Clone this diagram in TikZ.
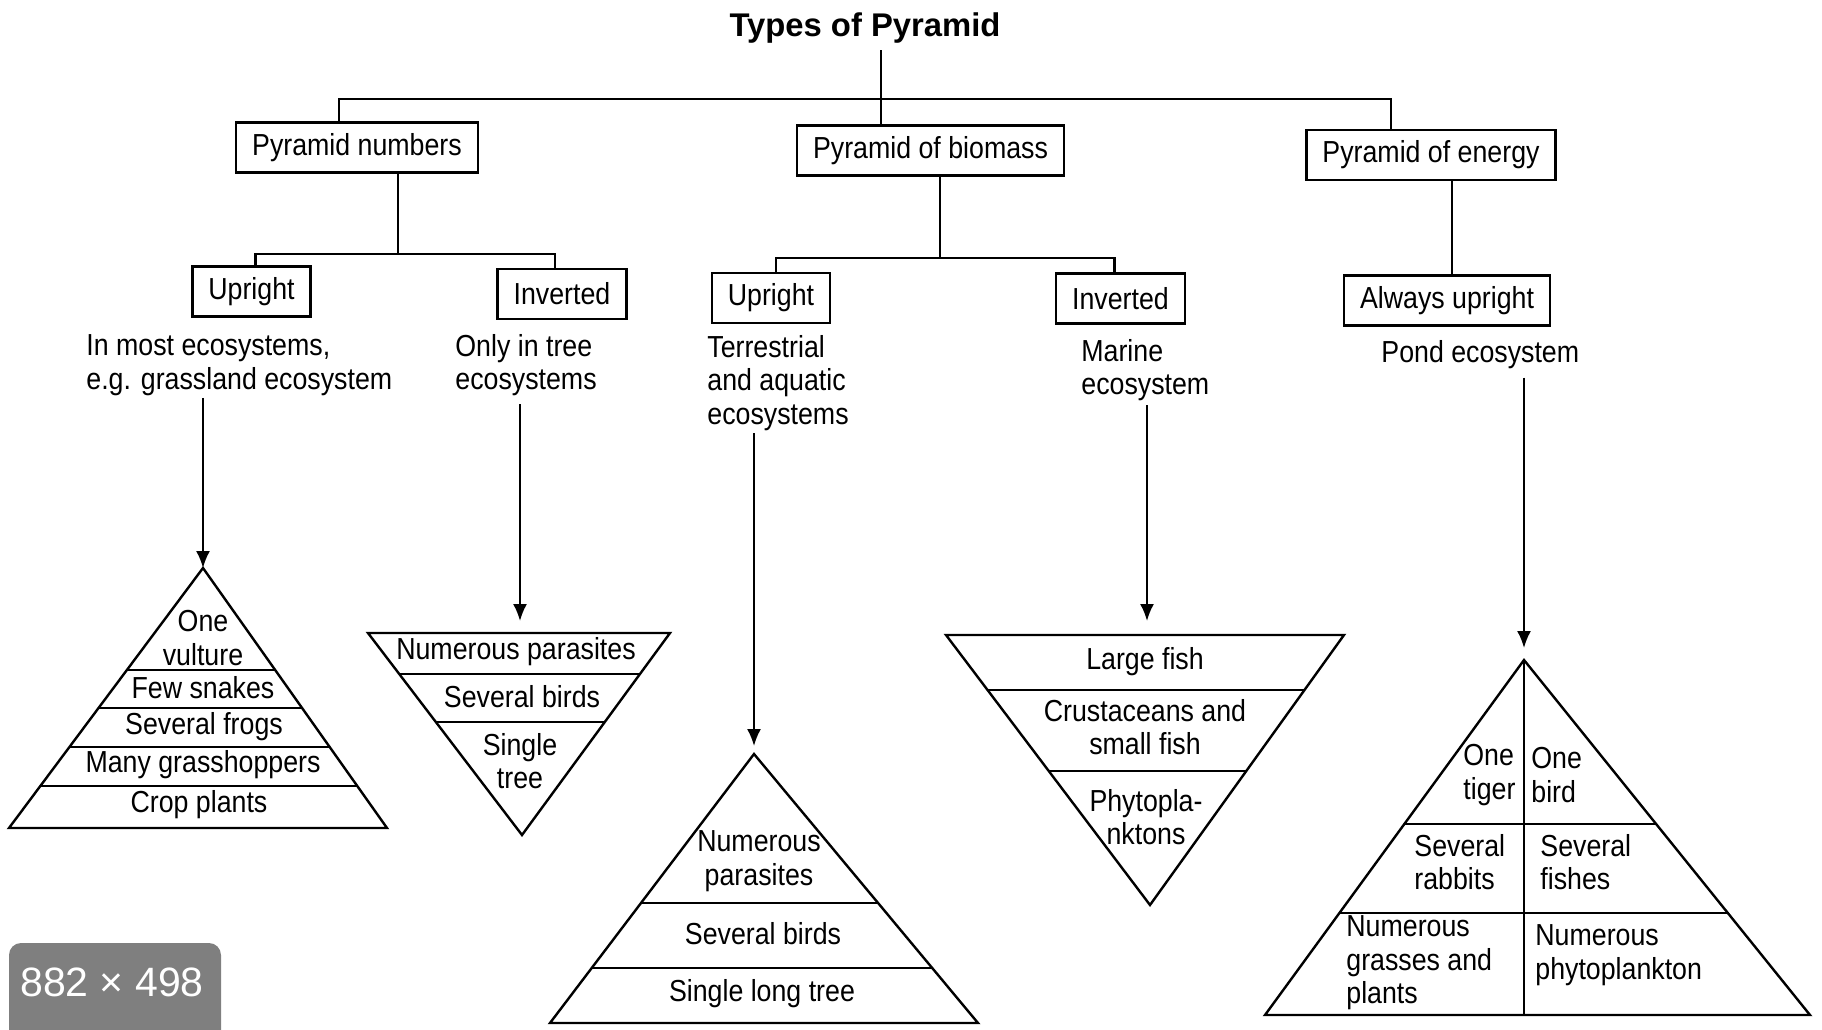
\documentclass[tikz,border=0pt]{standalone}
\usepackage{fontspec}
\setmainfont[FakeStretch=0.88]{Liberation Sans}
\newfontfamily\plainfont{Liberation Sans}
\usetikzlibrary{arrows.meta,calc}
\definecolor{badgegray}{HTML}{7F7F7F}
\tikzset{
  box/.style={draw, line width=1.2pt, inner xsep=8pt, inner ysep=0pt, minimum height=25pt},
  note/.style={inner sep=0pt, align=left, anchor=west},
  layer/.style={inner sep=0pt, align=center},
  link/.style={line width=1.1pt},
  down/.style={line width=1pt, -{Latex[length=8.5pt,width=7pt]}},
  pyr/.style={line width=1.2pt, line join=miter},
}
\begin{document}
\begin{tikzpicture}[x=0.5pt, y=-0.5pt, font=\fontsize{15.2pt}{16.8pt}\selectfont]
\useasboundingbox (0,0) rectangle (1822,1029);
%%
\node[font={\plainfont\bfseries\fontsize{16.4pt}{18pt}\selectfont}] (title) at (865,28) {Types of Pyramid};
%
\node[box] (num) at (357,147.5) {Pyramid numbers};
\node[box] (bio) at (930.5,150.5) {Pyramid of biomass};
\node[box] (en) at (1431,155) {Pyramid of energy};
%
\node[box] (up1) at (251.5,291.5) {Upright};
\node[box] (inv1) at (562,294) {Inverted};
\node[box] (up2) at (771,298) {Upright};
\node[box] (inv2) at (1120.5,298.5) {Inverted};
\node[box] (al) at (1447,300.5) {Always upright};
%% tree lines
\coordinate (topbar) at (881,99);
\draw[link] ([xshift=8pt]title.south) -- (bio.north -| topbar);
\draw[link] ([xshift=-9pt]num.north) |- (topbar) -| ([xshift=-20pt]en.north);
\coordinate (numbar) at (398,254);
\draw[link] ([xshift=20.5pt]num.south) -- (numbar);
\draw[link] ([xshift=2pt]up1.north) |- (numbar) -| ([xshift=-3.5pt]inv1.north);
\coordinate (biobar) at (940,258);
\draw[link] ([xshift=4.75pt]bio.south) -- (biobar);
\draw[link] ([xshift=2.5pt]up2.north) |- (biobar) -| ([xshift=-3pt]inv2.north);
\draw[link] ([xshift=10.5pt]en.south) -- ([xshift=2.5pt]al.north);
%% where
\node[note] (d1) at (86,365) {In most ecosystems,\\e.g. grassland ecosystem};
\node[note] (d2) at (455,365) {Only in tree\\ecosystems};
\node[note] (d3) at (707,383) {Terrestrial\\and aquatic\\ecosystems};
\node[note] (d4) at (1081,370) {Marine\\ecosystem};
\node[note] (d5) at (1381,355) {Pond ecosystem};
%% numbers, upright
\coordinate (a1) at (203,568);
\coordinate (l1) at (9,828);
\coordinate (r1) at (387,828);
\draw[pyr] (a1) -- (l1) -- (r1) -- cycle;
\foreach \t in {0.392,0.538,0.688,0.838}
  \draw[pyr] ($(a1)!\t!(l1)$) -- ($(a1)!\t!(r1)$);
\node[layer] (pn1) at (203,638) {One\\vulture};
\node[layer] (pn2) at (203,688) {Few snakes};
\node[layer] (pn3) at (204,727) {Several frogs};
\node[layer] (pn4) at (203,765) {Many grasshoppers};
\node[layer] (pn5) at (199,805) {Crop plants};
\draw[down] ([yshift=-1pt]d1.south -| a1) -- (a1);
%% numbers, inverted
\coordinate (tl2) at (368,633);
\coordinate (tr2) at (670,633);
\coordinate (a2) at (522,835);
\coordinate (m2) at (520,633);
\draw[pyr] (tl2) -- (tr2) -- (a2) -- cycle;
\foreach \t in {0.203,0.441}
  \draw[pyr] ($(tl2)!\t!(a2)$) -- ($(tr2)!\t!(a2)$);
\node[layer] (pi1) at (516,652) {Numerous parasites};
\node[layer] (pi2) at (522,697) {Several birds};
\node[layer] (pi3) at (520,761) {Single\\tree};
\draw[down] ([yshift=-4pt]d2.south -| m2) -- ([yshift=6pt]m2);
%% biomass, upright
\coordinate (a3) at (754,754);
\coordinate (l3) at (550,1023);
\coordinate (r3) at (978,1023);
\draw[pyr] (a3) -- (l3) -- (r3) -- cycle;
\foreach \t in {0.554,0.796}
  \draw[pyr] ($(a3)!\t!(l3)$) -- ($(a3)!\t!(r3)$);
\node[layer] (bu1) at (759,861) {Numerous\\parasites};
\node[layer] (bu2) at (763,934) {Several birds};
\node[layer] (bu3) at (762,994) {Single long tree};
\draw[down] ([yshift=-1pt]d3.south -| a3) -- ([yshift=4pt]a3);
%% biomass, inverted
\coordinate (tl4) at (946,635);
\coordinate (tr4) at (1344,635);
\coordinate (a4) at (1150,905);
\coordinate (m4) at (1147,635);
\draw[pyr] (tl4) -- (tr4) -- (a4) -- cycle;
\foreach \t in {0.204,0.504}
  \draw[pyr] ($(tl4)!\t!(a4)$) -- ($(tr4)!\t!(a4)$);
\node[layer] (bi1) at (1145,662) {Large fish};
\node[layer] (bi2) at (1145,727) {Crustaceans and\\small fish};
\node[layer] (bi3) at (1146,817) {Phytopla-\\nktons};
\draw[down] ([yshift=-2pt]d4.south -| m4) -- ([yshift=7pt]m4);
%% energy
\coordinate (a5) at (1524,660);
\coordinate (l5) at (1265,1015);
\coordinate (r5) at (1810,1015);
\draw[pyr] (a5) -- (l5) -- (r5) -- cycle;
\draw[pyr] (a5) -- (a5 |- l5);
\foreach \t in {0.462,0.713}
  \draw[pyr] ($(a5)!\t!(l5)$) -- ($(a5)!\t!(r5)$);
\node[note] (e1) at (1463,775) {One\\tiger};
\node[note] (e2) at (1531,775) {One\\bird};
\node[note] (e3) at (1414,862) {Several\\rabbits};
\node[note] (e4) at (1540,862) {Several\\fishes};
\node[note] (e5) at (1346,963) {Numerous\\grasses and\\plants};
\node[note] (e6) at (1535,955) {Numerous\\phytoplankton};
\draw[down] ([yshift=-4pt]d5.south -| a5) -- ([yshift=6pt]a5);
%% size badge
\fill[badgegray, rounded corners=6] (9,943) rectangle (221,1045);
\node[font={\plainfont\fontsize{20.5pt}{22pt}\selectfont}, text=white] (size) at (112,982) {882 × 498};
\end{tikzpicture}
\end{document}
